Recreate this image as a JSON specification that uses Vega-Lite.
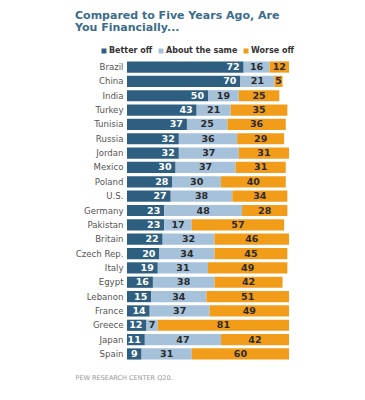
{
  "$schema": "https://vega.github.io/schema/vega-lite/v6.json",
  "width": 162,
  "height": 301,
  "padding": {"left": 75, "top": 10, "right": 5, "bottom": 5},
  "background": "white",
  "config": {"view": {"stroke": null}},
  "title": {
    "text": ["Compared to Five Years Ago, Are", "You Financially..."],
    "anchor": "start",
    "frame": "bounds",
    "font": "DejaVu Sans",
    "fontSize": 11,
    "fontWeight": "bold",
    "color": "#3b6d8a",
    "lineHeight": 12,
    "offset": 14
  },
  "data": {
    "values": [
      {"country": "Brazil", "cat": "Better off", "k": 1, "value": 72},
      {"country": "Brazil", "cat": "About the same", "k": 2, "value": 16},
      {"country": "Brazil", "cat": "Worse off", "k": 3, "value": 12},
      {"country": "China", "cat": "Better off", "k": 1, "value": 70},
      {"country": "China", "cat": "About the same", "k": 2, "value": 21},
      {"country": "China", "cat": "Worse off", "k": 3, "value": 5},
      {"country": "India", "cat": "Better off", "k": 1, "value": 50},
      {"country": "India", "cat": "About the same", "k": 2, "value": 19},
      {"country": "India", "cat": "Worse off", "k": 3, "value": 25},
      {"country": "Turkey", "cat": "Better off", "k": 1, "value": 43},
      {"country": "Turkey", "cat": "About the same", "k": 2, "value": 21},
      {"country": "Turkey", "cat": "Worse off", "k": 3, "value": 35},
      {"country": "Tunisia", "cat": "Better off", "k": 1, "value": 37},
      {"country": "Tunisia", "cat": "About the same", "k": 2, "value": 25},
      {"country": "Tunisia", "cat": "Worse off", "k": 3, "value": 36},
      {"country": "Russia", "cat": "Better off", "k": 1, "value": 32},
      {"country": "Russia", "cat": "About the same", "k": 2, "value": 36},
      {"country": "Russia", "cat": "Worse off", "k": 3, "value": 29},
      {"country": "Jordan", "cat": "Better off", "k": 1, "value": 32},
      {"country": "Jordan", "cat": "About the same", "k": 2, "value": 37},
      {"country": "Jordan", "cat": "Worse off", "k": 3, "value": 31},
      {"country": "Mexico", "cat": "Better off", "k": 1, "value": 30},
      {"country": "Mexico", "cat": "About the same", "k": 2, "value": 37},
      {"country": "Mexico", "cat": "Worse off", "k": 3, "value": 31},
      {"country": "Poland", "cat": "Better off", "k": 1, "value": 28},
      {"country": "Poland", "cat": "About the same", "k": 2, "value": 30},
      {"country": "Poland", "cat": "Worse off", "k": 3, "value": 40},
      {"country": "U.S.", "cat": "Better off", "k": 1, "value": 27},
      {"country": "U.S.", "cat": "About the same", "k": 2, "value": 38},
      {"country": "U.S.", "cat": "Worse off", "k": 3, "value": 34},
      {"country": "Germany", "cat": "Better off", "k": 1, "value": 23},
      {"country": "Germany", "cat": "About the same", "k": 2, "value": 48},
      {"country": "Germany", "cat": "Worse off", "k": 3, "value": 28},
      {"country": "Pakistan", "cat": "Better off", "k": 1, "value": 23},
      {"country": "Pakistan", "cat": "About the same", "k": 2, "value": 17},
      {"country": "Pakistan", "cat": "Worse off", "k": 3, "value": 57},
      {"country": "Britain", "cat": "Better off", "k": 1, "value": 22},
      {"country": "Britain", "cat": "About the same", "k": 2, "value": 32},
      {"country": "Britain", "cat": "Worse off", "k": 3, "value": 46},
      {"country": "Czech Rep.", "cat": "Better off", "k": 1, "value": 20},
      {"country": "Czech Rep.", "cat": "About the same", "k": 2, "value": 34},
      {"country": "Czech Rep.", "cat": "Worse off", "k": 3, "value": 45},
      {"country": "Italy", "cat": "Better off", "k": 1, "value": 19},
      {"country": "Italy", "cat": "About the same", "k": 2, "value": 31},
      {"country": "Italy", "cat": "Worse off", "k": 3, "value": 49},
      {"country": "Egypt", "cat": "Better off", "k": 1, "value": 16},
      {"country": "Egypt", "cat": "About the same", "k": 2, "value": 38},
      {"country": "Egypt", "cat": "Worse off", "k": 3, "value": 42},
      {"country": "Lebanon", "cat": "Better off", "k": 1, "value": 15},
      {"country": "Lebanon", "cat": "About the same", "k": 2, "value": 34},
      {"country": "Lebanon", "cat": "Worse off", "k": 3, "value": 51},
      {"country": "France", "cat": "Better off", "k": 1, "value": 14},
      {"country": "France", "cat": "About the same", "k": 2, "value": 37},
      {"country": "France", "cat": "Worse off", "k": 3, "value": 49},
      {"country": "Greece", "cat": "Better off", "k": 1, "value": 12},
      {"country": "Greece", "cat": "About the same", "k": 2, "value": 7},
      {"country": "Greece", "cat": "Worse off", "k": 3, "value": 81},
      {"country": "Japan", "cat": "Better off", "k": 1, "value": 11},
      {"country": "Japan", "cat": "About the same", "k": 2, "value": 47},
      {"country": "Japan", "cat": "Worse off", "k": 3, "value": 42},
      {"country": "Spain", "cat": "Better off", "k": 1, "value": 9},
      {"country": "Spain", "cat": "About the same", "k": 2, "value": 31},
      {"country": "Spain", "cat": "Worse off", "k": 3, "value": 60}
    ]
  },
  "transform": [
    {"stack": "value", "groupby": ["country"], "sort": [{"field": "k"}], "as": ["x0", "x1"]},
    {"calculate": "(datum.x0 + datum.x1) / 2", "as": "xm"}
  ],
  "encoding": {
    "y": {
      "field": "country",
      "type": "nominal",
      "sort": null,
      "scale": {"paddingInner": 0.22, "paddingOuter": 0.1},
      "axis": {
        "title": null,
        "ticks": false,
        "domain": false,
        "labelFont": "DejaVu Sans",
        "labelFontSize": 8.6,
        "labelColor": "#555555",
        "labelPadding": 4
      }
    }
  },
  "layer": [
    {
      "mark": {"type": "bar"},
      "encoding": {
        "x": {
          "field": "x0",
          "type": "quantitative",
          "scale": {"domain": [0, 100], "nice": false},
          "axis": {
            "labels": false,
            "ticks": false,
            "domain": false,
            "grid": false,
            "title": "PEW RESEARCH CENTER Q20.",
            "titleFont": "DejaVu Sans",
            "titleFontSize": 6.5,
            "titleFontWeight": "normal",
            "titleColor": "#999999",
            "titleAnchor": "start",
            "titleAlign": "left",
            "titleX": -52,
            "titleY": 13
          }
        },
        "x2": {"field": "x1"},
        "color": {
          "field": "cat",
          "type": "nominal",
          "scale": {
            "domain": ["Better off", "About the same", "Worse off"],
            "range": ["#2e5f80", "#a6c2db", "#f29d1a"]
          },
          "legend": {
            "orient": "none",
            "legendX": -27,
            "legendY": -13,
            "direction": "horizontal",
            "title": null,
            "symbolType": "square",
            "symbolSize": 25,
            "symbolStrokeWidth": 0,
            "labelFont": "DejaVu Sans",
            "labelFontWeight": "bold",
            "labelFontSize": 8,
            "labelColor": "#333333",
            "labelOffset": 1,
            "columnPadding": 4
          }
        }
      }
    },
    {
      "transform": [{"filter": "datum.k == 1"}],
      "mark": {"type": "text", "align": "right", "dx": -4, "font": "DejaVu Sans", "fontWeight": "bold", "fontSize": 9.5, "color": "white"},
      "encoding": {
        "x": {"field": "x1", "type": "quantitative", "title": "PEW RESEARCH CENTER Q20."},
        "text": {"field": "value", "type": "quantitative"}
      }
    },
    {
      "transform": [{"filter": "datum.k > 1"}],
      "mark": {"type": "text", "align": "center", "font": "DejaVu Sans", "fontWeight": "bold", "fontSize": 9.5, "color": "#2a2a2a"},
      "encoding": {
        "x": {"field": "xm", "type": "quantitative", "title": "PEW RESEARCH CENTER Q20."},
        "text": {"field": "value", "type": "quantitative"}
      }
    }
  ]
}
